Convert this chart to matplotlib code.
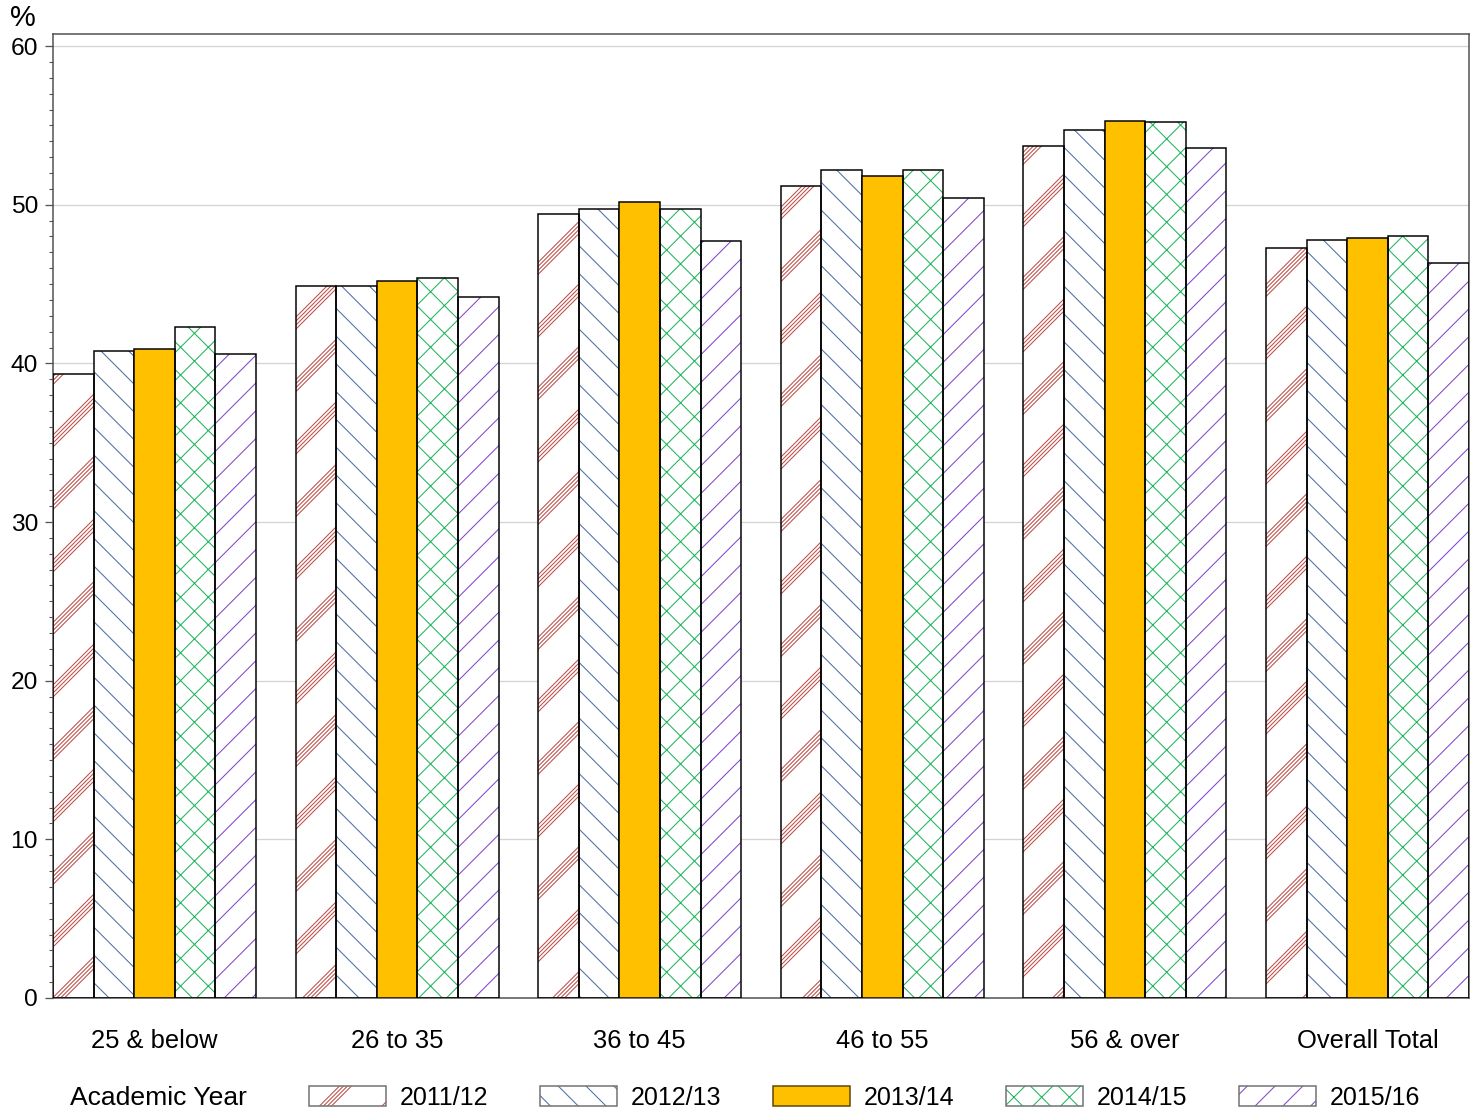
import numpy as np
import matplotlib
matplotlib.use("Agg")
import matplotlib.pyplot as plt
import matplotlib.hatch as mhatch
from matplotlib.hatch import HatchPatternBase
from matplotlib.path import Path
from matplotlib.patches import Patch
from matplotlib.legend_handler import HandlerTuple
from matplotlib.ticker import MultipleLocator

# ---------------- data ----------------
categories = ["25 & below", "26 to 35", "36 to 45", "46 to 55", "56 & over", "Overall Total"]
series_names = ["2011/12", "2012/13", "2013/14", "2014/15", "2015/16"]
v_2011 = [39.3, 44.9, 49.4, 51.2, 53.7, 47.3]
v_2012 = [40.8, 44.9, 49.7, 52.2, 54.7, 47.8]
v_2013 = [40.9, 45.2, 50.2, 51.8, 55.3, 47.9]
v_2014 = [42.3, 45.4, 49.7, 52.2, 55.2, 48.0]
v_2015 = [40.6, 44.2, 47.7, 50.4, 53.6, 46.3]
series_values = [v_2011, v_2012, v_2013, v_2014, v_2015]
y_ticks = [0, 10, 20, 30, 40, 50, 60]

# ---------------- custom banded hatch (replaces '*') ----------------
DPI = 250


class BandHatch(HatchPatternBase):
    """Bands of 4 thin '/' lines, used for the '*' hatch character."""
    def __init__(self, hatch, density):
        self.on = hatch.count('*') > 0
        self.offsets = []
        if self.on:
            d = 4.0 / DPI
            for b in range(4):
                for j in range(4):
                    self.offsets.append((b / 4.0 + j * d) % 1.0)
        self.num_vertices = len(self.offsets) * 4

    def set_vertices_and_codes(self, vertices, codes):
        k = 0
        for c in self.offsets:
            vertices[k] = (0.0, c)
            vertices[k + 1] = (1.0, 1.0 + c)
            vertices[k + 2] = (0.0, c - 1.0)
            vertices[k + 3] = (1.0, c)
            codes[k] = Path.MOVETO
            codes[k + 1] = Path.LINETO
            codes[k + 2] = Path.MOVETO
            codes[k + 3] = Path.LINETO
            k += 4


mhatch._hatch_types = [t for t in mhatch._hatch_types if t is not mhatch.Stars] + [BandHatch]

# ---------------- styling ----------------
plt.rcParams['font.family'] = ['Liberation Sans', 'DejaVu Sans']
plt.rcParams['hatch.linewidth'] = 0.3


def px(v):
    return v * 72.0 / DPI


hatches = ['*', '\\\\\\', None, 'xxx', '///']
hatch_colors = ['#bd4f4a', '#4f6fa6', None, '#1fb55c', '#8048c8']
face_colors = ['white', 'white', '#FFC000', 'white', 'white']

fig = plt.figure(figsize=(1478 / DPI, 1114 / DPI), dpi=DPI)
ax = fig.add_axes([53 / 1478, 1 - 998 / 1114, (1469 - 53) / 1478, (998 - 34) / 1114])

n = len(series_names)
w = 0.1674
x = np.arange(len(categories))
edge_lw = px(1.5)

handles = []
for i in range(n):
    xs = x + (i - (n - 1) / 2) * w
    if hatches[i] is not None:
        ax.bar(xs, series_values[i], w, color='white', edgecolor=hatch_colors[i],
               linewidth=0, hatch=hatches[i], zorder=2)
        ax.bar(xs, series_values[i], w, fill=False, edgecolor='black',
               linewidth=edge_lw, zorder=3)
        h1 = Patch(facecolor='white', edgecolor=hatch_colors[i], linewidth=0, hatch=hatches[i])
        h2 = Patch(fill=False, edgecolor='#707070', linewidth=edge_lw)
        handles.append((h1, h2))
    else:
        ax.bar(xs, series_values[i], w, color=face_colors[i], edgecolor='black',
               linewidth=edge_lw, zorder=3)
        handles.append((Patch(facecolor=face_colors[i], edgecolor='#5a4500', linewidth=edge_lw),))

ax.set_xlim(-0.4186, len(categories) - 1 + 0.4186)
ax.set_ylim(0, 60.76)
ax.set_yticks(y_ticks)
ax.yaxis.set_minor_locator(MultipleLocator(1))
ax.set_xticks(x)
ax.set_xticklabels(categories)
ax.tick_params(axis='x', length=0, pad=px(31), labelsize=px(25.5))
ax.tick_params(axis='y', which='major', length=px(8), width=px(1.3), color='#555555',
               pad=px(7), labelsize=px(24.5))
ax.tick_params(axis='y', which='minor', length=px(4), width=px(1.1), color='#555555')
ax.grid(axis='y', color='#d4d4d4', linewidth=px(1.3), zorder=0)
ax.set_axisbelow(True)
for s in ax.spines.values():
    s.set_color('#505050')
    s.set_linewidth(px(1.5))

fig.text(23 / 1478, 1 - 18 / 1114, '%', fontsize=px(29), ha='center', va='center')
fig.text(70 / 1478, 1 - 1098 / 1114, 'Academic Year', fontsize=px(26.5), ha='left', va='center')

fig.legend(handles, series_names, loc='center left',
           bbox_to_anchor=(309 / 1478, 1 - 1098 / 1114),
           ncol=5, frameon=False, handlelength=3.08, handleheight=0.85,
           handletextpad=0.56, columnspacing=2.06, borderpad=0, borderaxespad=0,
           fontsize=px(25), handler_map={tuple: HandlerTuple(ndivide=1)})

fig.savefig('out.png', dpi=DPI)
